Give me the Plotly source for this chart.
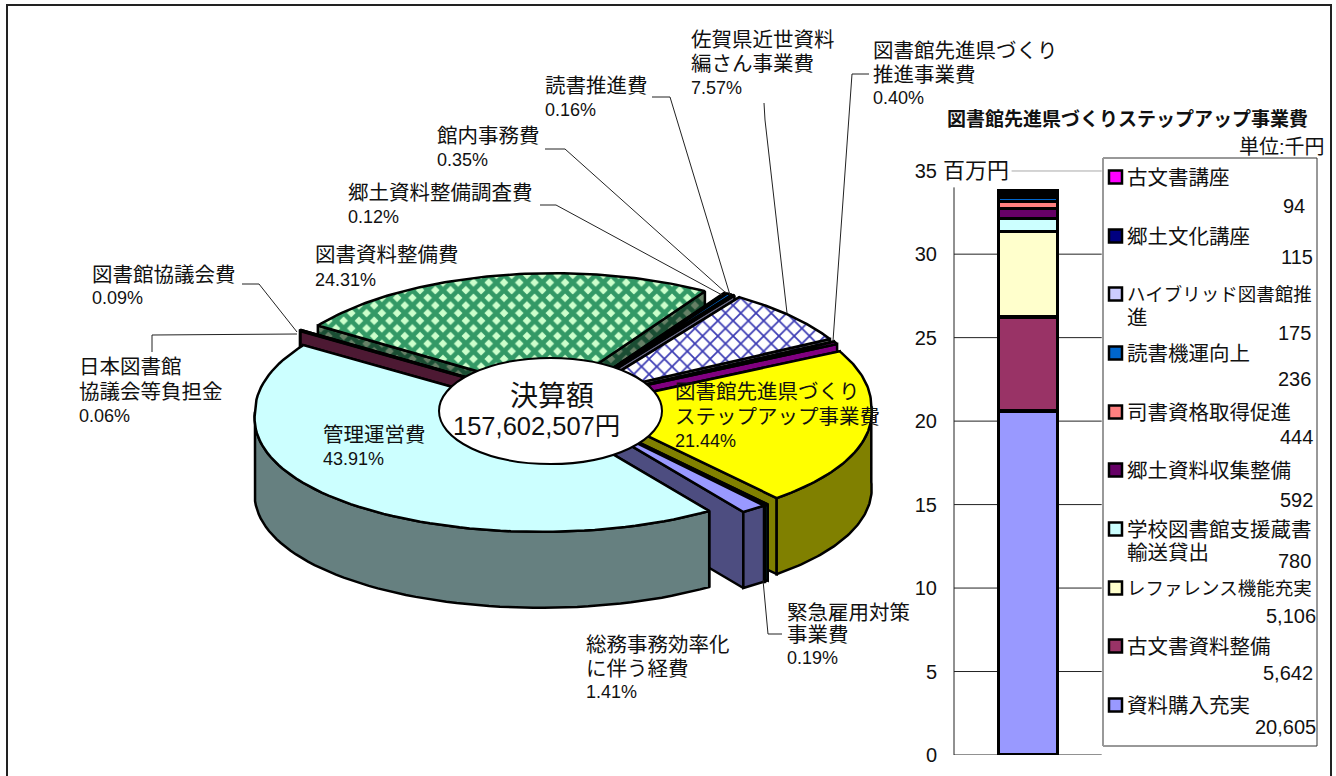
import numpy as np
import plotly.graph_objects as go

# ---- pie data (percent), clockwise from the start angle
pie_names = ["管理運営費", "日本図書館協議会等負担金", "図書館協議会費", "図書資料整備費", "郷土資料整備調査費",
             "館内事務費", "読書推進費", "佐賀県近世資料編さん事業費", "図書館先進県づくり推進事業費",
             "図書館先進県づくりステップアップ事業費", "緊急雇用対策事業費", "総務事務効率化に伴う経費"]
pie_pct = [43.91, 0.06, 0.09, 24.31, 0.12, 0.35, 0.16, 7.57, 0.40, 21.44, 0.19, 1.41]
pie_top = ["#CCFFFF", "#993366", "#660066", "#339966", "#FF8080", "#0066CC", "#CCCCFF", "#FFFFFF", "#FF00FF",
           "#FFFF00", "#00CCCC", "#9999FF"]
pie_wall = ["#668080", "#4D1933", "#330033", "#1A4D33", "#804040", "#003366", "#666680", "#808080", "#800080",
            "#808000", "#006666", "#4D4D80"]

# ---- stacked column data (thousand yen), bottom to top
bar_names = ["資料購入充実", "古文書資料整備", "レファレンス機能充実", "学校図書館支援蔵書<br>輸送貸出", "郷土資料収集整備",
             "司書資格取得促進", "読書機運向上", "ハイブリッド図書館推<br>進", "郷土文化講座", "古文書講座"]
bar_vals = [20605, 5642, 5106, 780, 592, 444, 236, 175, 115, 94]
bar_cols = ["#9999FF", "#993366", "#FFFFCC", "#CCFFFF", "#660066", "#FF8080", "#0066CC", "#CCCCFF", "#000080", "#FF00FF"]
axis_ticks = [0, 5, 10, 15, 20, 25, 30, 35]

# ---- layout constants
W, H = 1336, 776
CX, CY, RX, RY, EXPL, DEPTH, START, PERSP = 559.5, 404, 286, 120, 0.092, 76, 145.7, 0.053
FONT = "Liberation Sans, Noto Sans CJK JP, sans-serif"
INK = "#111111"

fig = go.Figure()


def rim(ax, ay, th):
    t = np.radians(th)
    near = 1 + PERSP * np.maximum(0, -np.cos(t))  # the near half of the disc reads slightly wider
    return ax + RX * np.sin(t) * near, ay - RY * np.cos(t)


def patt(i, wall=False):
    if i == 3:
        return dict(shape="x", size=10.8, solidity=0.68, fgopacity=1, fgcolor="#1A4D33" if wall else "#339966",
                    bgcolor="#668066" if wall else "#CCFFCC")
    if i == 7:
        return dict(shape="x", size=10.8, solidity=0.3, fgopacity=1, fgcolor="#1A1A55" if wall else "#3C3CB4",
                    bgcolor="#808080" if wall else "#FFFFFF")
    return None


def poly(xs, ys, color, pattern=None, name=""):
    kw = dict(fillpattern=pattern) if pattern else {}
    fig.add_trace(go.Scatter(x=list(xs), y=list(ys), mode="lines", fill="toself", fillcolor=color,
                             line=dict(color="black", width=2.5), hoverinfo="skip", showlegend=False,
                             name=name, xaxis="x", yaxis="y", **kw))


edges = START + np.concatenate([[0], np.cumsum(pie_pct)]) * 3.6
mids = (edges[:-1] + edges[1:]) / 2
order = sorted(range(len(pie_pct)), key=lambda i: (i == 0, -np.cos(np.radians(mids[i]))))

for i in order:
    a, b, m = edges[i], edges[i + 1], np.radians(mids[i])
    ax = CX + EXPL * RX * np.sin(m)
    ay = CY - EXPL * RY * np.cos(m)
    # radial walls
    for th in (a, b):
        rx, ry = rim(ax, ay, th)
        poly([ax, rx, rx, ax, ax], [ay, ry, ry + DEPTH, ay + DEPTH, ay], pie_wall[i], patt(i, True), pie_names[i])
    # outer wall, front half only
    for lo, hi in ((90, 270), (450, 630)):
        s, e = max(a, lo), min(b, hi)
        if e > s:
            ts = np.linspace(s, e, 60)
            px, py = rim(ax, ay, ts)
            poly(np.r_[px, px[::-1], px[0]], np.r_[py, py[::-1] + DEPTH, py[0]], pie_wall[i], patt(i, True), pie_names[i])
    # top face
    ts = np.linspace(a, b, 80)
    px, py = rim(ax, ay, ts)
    poly(np.r_[ax, px, ax], np.r_[ay, py, ay], pie_top[i], patt(i), pie_names[i])

# ---- stacked column
for n, v, c in zip(bar_names, bar_vals, bar_cols):
    fig.add_trace(go.Bar(x=[0], y=[v / 1000], width=0.4, marker=dict(color=c, line=dict(color="black", width=3.5)),
                         name=n.replace("<br>", ""), xaxis="x2", yaxis="y2", showlegend=False, hoverinfo="skip"))

shapes = []


def line(path, width=1, color="#222222", layer="above"):
    shapes.append(dict(type="path", path=path, line=dict(color=color, width=width), xref="x", yref="y", layer=layer))


# frame
line("M7,776 L7,5 L1331,5 L1331,776", 2, "#222222")
# centre ellipse
shapes.append(dict(type="circle", x0=439, x1=662, y0=358, y1=464, xref="x", yref="y",
                   fillcolor="white", line=dict(color="black", width=2)))
# leader lines
for p in ["M652,97 L670,97 L730,295", "M545,149 L565,149 L726,293", "M540,205 L556,205 L722,295",
          "M764,103 L765,120 L787,313", "M869,74 L852,74 L833,341", "M242,284 L259,284 L297,332",
          "M152,352 L152,335 L297,334", "M763,580 L768,634 L782,634"]:
    line(p, 1)

# column axes, drawn on the column's own scale
shapes.append(dict(type="line", x0=0, x1=0, y0=0, y1=34, xref="x2 domain", yref="y2",
                   line=dict(color="#222222", width=1), layer="below"))
for t in axis_ticks:
    shapes.append(dict(type="line", x0=0.39 if t == 35 else 0, x1=1, y0=t, y1=t, xref="x2 domain", yref="y2",
                       line=dict(color="#222222", width=1), layer="below"))

# legend box
shapes.append(dict(type="rect", x0=1103, x1=1317, y0=158, y1=746, xref="x", yref="y",
                   fillcolor="white", line=dict(color="#333333", width=1)))
line("M1103,158 L1103,746", 2, "#999999")

anns = []


def txt(x, y, s, size=20.5, anchor="left"):
    nudge = {"left": -2, "right": 2, "center": 0}[anchor]  # annotation inner padding
    anns.append(dict(x=x + nudge, y=y, text=s, xref="x", yref="y", showarrow=False, xanchor=anchor, yanchor="middle",
                     font=dict(family=FONT, size=size, color=INK), align=anchor))


# pie labels
label_x = [691, 873, 545, 437, 348, 315, 92, 79, 323, 675, 586, 787]
label_lines = [["佐賀県近世資料", "編さん事業費", "7.57%"], ["図書館先進県づくり", "推進事業費", "0.40%"], ["読書推進費", "0.16%"],
               ["館内事務費", "0.35%"], ["郷土資料整備調査費", "0.12%"], ["図書資料整備費", "24.31%"], ["図書館協議会費", "0.09%"],
               ["日本図書館", "協議会等負担金", "0.06%"], ["管理運営費", "43.91%"],
               ["図書館先進県づくり", "ステップアップ事業費", "21.44%"], ["総務事務効率化", "に伴う経費", "1.41%"],
               ["緊急雇用対策", "事業費", "0.19%"]]
label_y = [[39, 63, 88], [50, 74, 98], [85, 110], [135, 160], [192, 217], [254, 280], [274, 298], [366, 391, 416],
           [434, 459], [391, 416, 441], [644, 668, 692], [612, 634, 658]]
for x, lines, ys in zip(label_x, label_lines, label_y):
    for s, y in zip(lines, ys):
        txt(x, y, s, 18 if s.endswith("%") else 20.5)

txt(552, 396, "決算額", 28, "center")
txt(536, 426, "157,602,507円", 25.5, "center")

# column heading
txt(1127, 119, "<b>図書館先進県づくりステップアップ事業費</b>", 19, "center")
txt(1325, 147, "単位:千円", 20, "right")
txt(943, 170, "百万円", 22)

# legend entries, top to bottom
leg_y = [177, 236, 294, 353, 412, 470, 529, 588, 646, 705]
val_y = [206, 257, 333, 379, 437, 500, 561, 616, 673, 727]
val_right = [1305, 1313, 1311, 1311, 1313, 1313, 1311, 1316, 1313, 1316]
for k, (n, v, c) in enumerate(zip(bar_names[::-1], bar_vals[::-1], bar_cols[::-1])):
    y = leg_y[k]
    shapes.append(dict(type="rect", x0=1109, x1=1122, y0=y - 6.5, y1=y + 6.5, xref="x", yref="y",
                       fillcolor=c, line=dict(color="black", width=2.5)))
    parts = n.split("<br>")
    size = 18.5 if len(parts[0]) >= 10 else 20.5
    txt(1127, y, parts[0], size)
    if len(parts) > 1:
        txt(1127, y + 23, parts[1], 20.5)
    txt(val_right[k], val_y[k], f"{v:,}", 20, "right")

fig.update_layout(
    width=W, height=H, autosize=False, margin=dict(l=0, r=0, t=0, b=0),
    paper_bgcolor="white", plot_bgcolor="rgba(0,0,0,0)", barmode="stack", showlegend=False,
    xaxis=dict(range=[0, W], domain=[0, 1], visible=False, fixedrange=True, automargin=False),
    yaxis=dict(range=[H, 0], domain=[0, 1], visible=False, fixedrange=True, automargin=False),
    xaxis2=dict(range=[-0.5, 0.5], domain=[954 / W, 1101.7 / W], visible=False, anchor="y2", fixedrange=True,
                automargin=False),
    yaxis2=dict(range=[0, 35], domain=[(H - 755) / H, (H - 170.7) / H], anchor="x2", tickmode="array",
                tickvals=axis_ticks, ticktext=[str(t) for t in axis_ticks], showgrid=False, zeroline=False,
                showline=False, ticks="", ticklabelstandoff=16, automargin=False,
                tickfont=dict(family=FONT, size=20, color=INK), fixedrange=True),
    shapes=shapes, annotations=anns,
)
fig.write_html("out.html", config=dict(displayModeBar=False),
               post_script="document.documentElement.style.overflow='hidden';document.body.style.margin='0';document.body.style.overflow='hidden';")
